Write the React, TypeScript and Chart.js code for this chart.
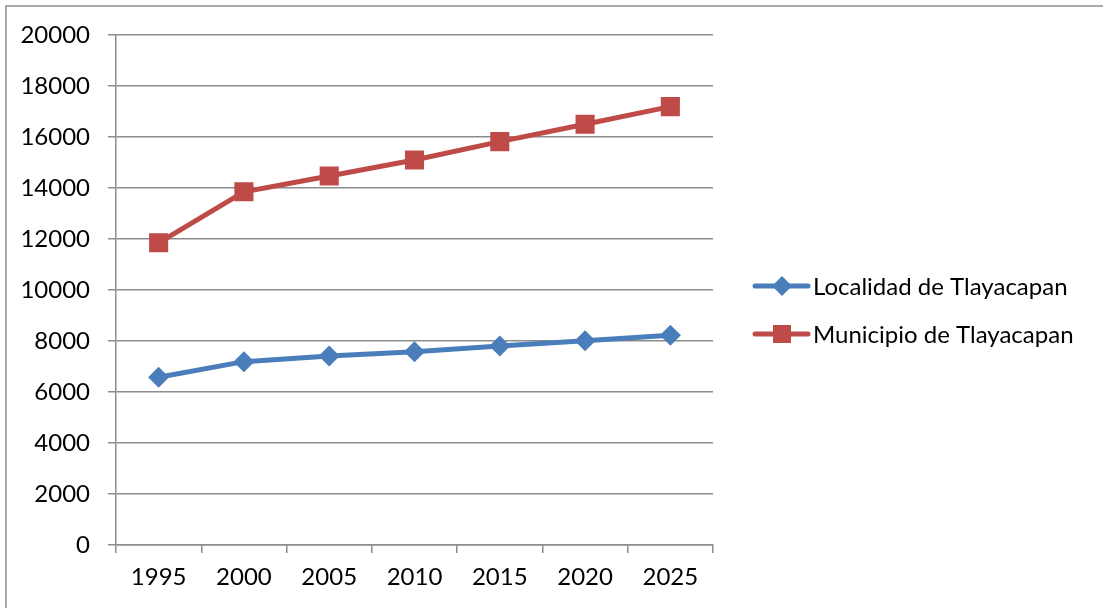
import { useEffect, useRef } from "react";
import { Chart, registerables } from "chart.js";

Chart.register(...registerables);

const years = ["1995", "2000", "2005", "2010", "2015", "2020", "2025"];
const localidad = [6580, 7190, 7410, 7580, 7800, 8010, 8230];
const municipio = [11850, 13850, 14470, 15100, 15820, 16500, 17190];
const seriesNames = ["Localidad de Tlayacapan", "Municipio de Tlayacapan"];
const seriesColors = ["#4A7EBB", "#BE4B48"];
const seriesMarkers = ["rectRot", "rect"];
const yMin = 0;
const yMax = 20000;
const yStep = 2000;

const FONT = "Lato";
const FONT_SIZE = 24;

const framePlugin = {
  id: "frame",
  beforeDraw(chart: any) {
    const ctx = chart.ctx;
    ctx.save();
    ctx.strokeStyle = "#8c8c8c";
    ctx.lineWidth = 1.5;
    ctx.strokeRect(6, 6, chart.width + 20, chart.height + 20);
    ctx.restore();
  },
};

const legendPlugin = {
  id: "customLegend",
  afterDraw(chart: any) {
    const { ctx, chartArea } = chart;
    const x0 = chartArea.right + 42;
    const midY = (chartArea.top + chartArea.bottom) / 2;
    chart.data.datasets.forEach((ds: any, i: number) => {
      const y = midY - 4 + i * 48;
      ctx.save();
      ctx.strokeStyle = ds.borderColor;
      ctx.lineWidth = 5;
      ctx.lineCap = "round";
      ctx.beginPath();
      ctx.moveTo(x0, y);
      ctx.lineTo(x0 + 53, y);
      ctx.stroke();
      ctx.fillStyle = ds.backgroundColor;
      const cx = x0 + 27;
      ctx.beginPath();
      if (ds.pointStyle === "rect") {
        ctx.rect(cx - 9, y - 9, 18, 18);
      } else {
        ctx.moveTo(cx, y - 10);
        ctx.lineTo(cx + 10, y);
        ctx.lineTo(cx, y + 10);
        ctx.lineTo(cx - 10, y);
        ctx.closePath();
      }
      ctx.fill();
      ctx.fillStyle = "#000";
      ctx.font = `${FONT_SIZE}px ${FONT}`;
      ctx.textBaseline = "middle";
      ctx.textAlign = "left";
      ctx.fillText(ds.label, x0 + 58, y + 1);
      ctx.restore();
    });
  },
};

export default function App() {
  const ref = useRef<HTMLCanvasElement | null>(null);

  useEffect(() => {
    if (!ref.current) return;
    const chart = new Chart(ref.current, {
      type: "line",
      data: {
        labels: years,
        datasets: [
          {
            label: seriesNames[0],
            data: localidad,
            borderColor: seriesColors[0],
            backgroundColor: seriesColors[0],
            borderWidth: 5,
            pointStyle: seriesMarkers[0] as any,
            pointRadius: 10.5,
            pointBorderWidth: 0,
            tension: 0,
          },
          {
            label: seriesNames[1],
            data: municipio,
            borderColor: seriesColors[1],
            backgroundColor: seriesColors[1],
            borderWidth: 5,
            pointStyle: seriesMarkers[1] as any,
            pointRadius: 13.5,
            pointBorderWidth: 0,
            tension: 0,
          },
        ],
      },
      options: {
        responsive: false,
        animation: false,
        devicePixelRatio: 1,
        layout: { padding: { top: 35, right: 390, bottom: 0, left: 0 } },
        plugins: {
          legend: { display: false },
          tooltip: { enabled: false },
        },
        scales: {
          x: {
            type: "category",
            offset: true,
            grid: {
              offset: true,
              drawOnChartArea: false,
              drawTicks: true,
              tickLength: 8,
              color: "#8c8c8c",
              lineWidth: 1.5,
            },
            border: { color: "#8c8c8c", width: 1.5 },
            ticks: {
              color: "#000",
              font: { family: FONT, size: FONT_SIZE },
              padding: 10,
              maxRotation: 0,
            },
            afterFit: (scale: any) => {
              scale.height = 63;
            },
          },
          y: {
            min: yMin,
            max: yMax,
            grid: {
              color: "#8c8c8c",
              lineWidth: 1.5,
              tickLength: 8,
              drawTicks: true,
            },
            border: { color: "#8c8c8c", width: 1.5 },
            ticks: {
              stepSize: yStep,
              color: "#000",
              font: { family: FONT, size: FONT_SIZE },
              padding: 18,
              callback: (v: any) => String(v),
            },
            afterFit: (scale: any) => {
              scale.width = 116;
            },
          },
        },
      },
      plugins: [framePlugin, legendPlugin],
    });
    return () => chart.destroy();
  }, []);

  return (
    <div style={{ position: "fixed", left: 0, top: 0, width: 1103, height: 608, background: "#fff" }}>
      <canvas ref={ref} width={1103} height={608} style={{ display: "block" }} />
    </div>
  );
}
